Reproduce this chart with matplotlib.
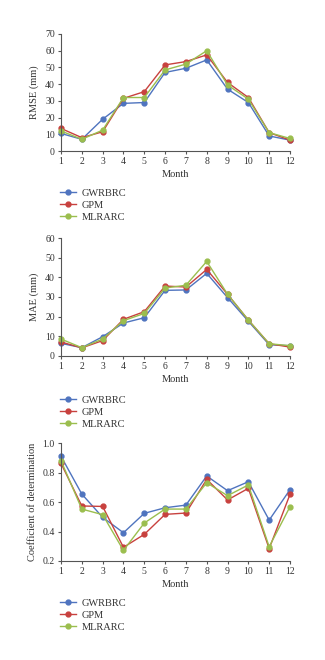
import matplotlib
matplotlib.use("Agg")
import matplotlib.pyplot as plt
from matplotlib.ticker import FormatStrFormatter

months = list(range(1, 13))
series_names = ["GWRBRC", "GPM", "MLRARC"]
colors = ["#4F74BF", "#C8413E", "#9BBE4E"]

rmse_gwrbrc = [10.5, 7.0, 19.0, 28.5, 29.0, 47.0, 49.5, 54.5, 37.0, 29.0, 9.0, 6.5]
rmse_gpm = [13.5, 8.0, 11.5, 31.5, 35.5, 51.5, 53.5, 57.5, 41.0, 32.0, 11.0, 6.5]
rmse_mlrarc = [12.0, 7.0, 12.5, 32.0, 32.0, 48.5, 52.0, 60.0, 39.5, 31.0, 11.0, 7.5]

mae_gwrbrc = [6.3, 4.1, 9.7, 16.7, 19.4, 33.4, 33.6, 42.1, 29.7, 17.6, 5.6, 5.1]
mae_gpm = [7.0, 4.0, 7.7, 18.6, 22.5, 35.6, 35.1, 44.1, 31.4, 18.2, 6.1, 4.4]
mae_mlrarc = [8.5, 4.1, 8.5, 17.9, 21.6, 34.6, 36.0, 48.2, 31.4, 18.2, 6.1, 5.1]

r2_gwrbrc = [0.912, 0.655, 0.497, 0.392, 0.524, 0.562, 0.580, 0.778, 0.678, 0.739, 0.478, 0.685]
r2_gpm = [0.864, 0.574, 0.571, 0.293, 0.381, 0.517, 0.526, 0.755, 0.615, 0.694, 0.284, 0.653]
r2_mlrarc = [0.882, 0.553, 0.515, 0.272, 0.458, 0.553, 0.553, 0.732, 0.644, 0.717, 0.297, 0.569]

plt.rcParams["font.family"] = ["Liberation Serif", "DejaVu Serif"]
plt.rcParams["font.size"] = 7

fig = plt.figure(figsize=(3.25, 6.6), dpi=100)

panels = [
    dict(rect=[0.1877, 0.7712, 0.7046, 0.1773], data=[rmse_gwrbrc, rmse_gpm, rmse_mlrarc],
         ylim=(0, 70), yticks=range(0, 71, 10), ylabel="RMSE (mm)", fmt="%d", legend_y=1 - 205 / 660),
    dict(rect=[0.1877, 0.4611, 0.7046, 0.1778], data=[mae_gwrbrc, mae_gpm, mae_mlrarc],
         ylim=(0, 60), yticks=range(0, 61, 10), ylabel="MAE (mm)", fmt="%d", legend_y=1 - 412 / 660),
    dict(rect=[0.1877, 0.1500, 0.7046, 0.1783], data=[r2_gwrbrc, r2_gpm, r2_mlrarc],
         ylim=(0.2, 1.0), yticks=[0.2, 0.4, 0.6, 0.8, 1.0], ylabel="Coefficient of determination",
         fmt="%.1f", legend_y=1 - 615 / 660),
]

for p in panels:
    ax = fig.add_axes(p["rect"])
    for name, vals, c in zip(series_names, p["data"], colors):
        ax.plot(months, vals, color=c, lw=1.0, marker="o", ms=3.5, label=name, clip_on=False)
    ax.set_xlim(1, 12)
    ax.set_ylim(*p["ylim"])
    ax.set_xticks(months)
    ax.set_yticks(list(p["yticks"]))
    ax.yaxis.set_major_formatter(FormatStrFormatter(p["fmt"]))
    ax.spines["top"].set_visible(False)
    ax.spines["right"].set_visible(False)
    for s in ("left", "bottom"):
        ax.spines[s].set_color("#555555")
        ax.spines[s].set_linewidth(0.8)
    ax.tick_params(direction="out", length=2.5, width=0.8, color="#555555",
                   labelsize=7, labelcolor="#333333", pad=2)
    ax.set_xlabel("Month", fontsize=7.5, color="#333333", labelpad=3)
    ax.set_ylabel(p["ylabel"], fontsize=7.5, color="#333333", labelpad=4)
    ax.legend(loc="center left", bbox_to_anchor=(0.185, p["legend_y"]),
              bbox_transform=fig.transFigure, frameon=False, fontsize=7.5,
              handlelength=1.5, handletextpad=0.6, labelspacing=0.25, borderpad=0,
              borderaxespad=0, labelcolor="#333333")

fig.savefig("out.png", dpi=100)
